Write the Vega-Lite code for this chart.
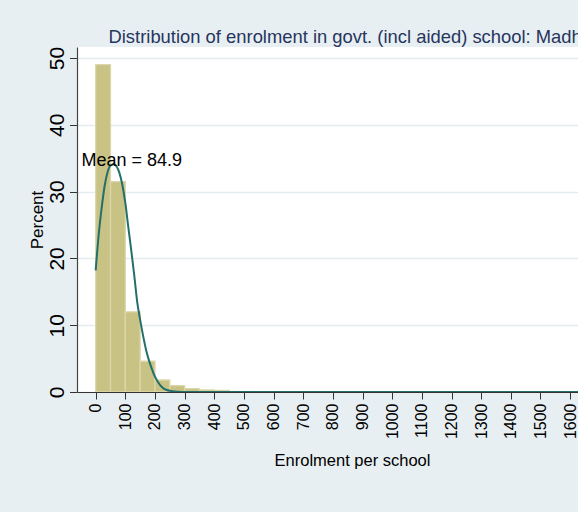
{
  "$schema": "https://vega.github.io/schema/vega-lite/v6.json",
  "width": 501,
  "height": 345,
  "autosize": {"type": "none"},
  "padding": {"left": 77, "top": 47, "right": 0, "bottom": 120},
  "background": "#e8eff2",
  "title": {
    "text": "Distribution of enrolment in govt. (incl aided) school: Madhya Pradesh",
    "anchor": "start",
    "frame": "group",
    "dx": 31.5,
    "offset": -14.7,
    "baseline": "alphabetic",
    "font": "Liberation Sans",
    "fontSize": 18.4,
    "fontWeight": "normal",
    "color": "#26355e"
  },
  "config": {
    "view": {"fill": "white", "stroke": null},
    "font": "Liberation Sans"
  },
  "datasets": {
    "bins": [
      {"lower": 0, "upper": 50, "percent": 49.0},
      {"lower": 50, "upper": 100, "percent": 31.5},
      {"lower": 100, "upper": 150, "percent": 12.0},
      {"lower": 150, "upper": 200, "percent": 4.6},
      {"lower": 200, "upper": 250, "percent": 1.8},
      {"lower": 250, "upper": 300, "percent": 0.95},
      {"lower": 300, "upper": 350, "percent": 0.5},
      {"lower": 350, "upper": 400, "percent": 0.3},
      {"lower": 400, "upper": 450, "percent": 0.25},
      {"lower": 450, "upper": 500, "percent": 0.06},
      {"lower": 500, "upper": 550, "percent": 0.04},
      {"lower": 550, "upper": 600, "percent": 0.03},
      {"lower": 600, "upper": 650, "percent": 0.02},
      {"lower": 650, "upper": 700, "percent": 0.01}
    ],
    "normal": [
      {"enrolment": 0, "percent": 18.2},
      {"enrolment": 10, "percent": 23.5},
      {"enrolment": 20, "percent": 27.5},
      {"enrolment": 30, "percent": 30.8},
      {"enrolment": 40, "percent": 32.9},
      {"enrolment": 50, "percent": 33.9},
      {"enrolment": 60, "percent": 34.1},
      {"enrolment": 70, "percent": 33.8},
      {"enrolment": 80, "percent": 32.8},
      {"enrolment": 90, "percent": 31.0},
      {"enrolment": 100, "percent": 28.3},
      {"enrolment": 110, "percent": 24.7},
      {"enrolment": 120, "percent": 21.2},
      {"enrolment": 130, "percent": 17.5},
      {"enrolment": 140, "percent": 13.5},
      {"enrolment": 150, "percent": 10.8},
      {"enrolment": 160, "percent": 8.4},
      {"enrolment": 170, "percent": 6.3},
      {"enrolment": 180, "percent": 4.7},
      {"enrolment": 190, "percent": 3.4},
      {"enrolment": 200, "percent": 2.3},
      {"enrolment": 210, "percent": 1.5},
      {"enrolment": 220, "percent": 0.9},
      {"enrolment": 230, "percent": 0.5},
      {"enrolment": 240, "percent": 0.3},
      {"enrolment": 250, "percent": 0.18},
      {"enrolment": 260, "percent": 0.1},
      {"enrolment": 280, "percent": 0.03},
      {"enrolment": 300, "percent": 0},
      {"enrolment": 1700, "percent": 0}
    ]
  },
  "encoding": {
    "x": {
      "type": "quantitative",
      "scale": {"domain": [-63, 1626.6], "nice": false, "zero": false},
      "axis": {
        "title": "Enrolment per school",
        "values": [0, 100, 200, 300, 400, 500, 600, 700, 800, 900, 1000, 1100, 1200, 1300, 1400, 1500, 1600],
        "format": "d",
        "grid": false,
        "labelAngle": -90,
        "labelAlign": "right",
        "labelBaseline": "middle",
        "labelPadding": 4,
        "labelFont": "Liberation Sans Narrow, Arial Narrow, Liberation Sans",
        "labelFontSize": 16,
        "labelColor": "black",
        "labelFlush": false,
        "labelOverlap": false,
        "labelBound": false,
        "tickSize": 7,
        "tickColor": "#333333",
        "domainColor": "#333333",
        "domainWidth": 1.2,
        "titleFontSize": 16.5,
        "titleFontWeight": "normal",
        "titleColor": "black",
        "titleX": 275,
        "titleY": 73,
        "titleBaseline": "alphabetic",
        "titleAlign": "center"
      }
    },
    "y": {
      "type": "quantitative",
      "scale": {"domain": [0, 51.65], "nice": false},
      "axis": {
        "title": "Percent",
        "values": [0, 10, 20, 30, 40, 50],
        "grid": true,
        "gridColor": "#e4ecef",
        "gridWidth": 1.5,
        "labelAngle": -90,
        "labelAlign": "center",
        "labelBaseline": "alphabetic",
        "labelPadding": 6,
        "labelFont": "Liberation Sans Narrow, Arial Narrow, Liberation Sans",
        "labelFontSize": 21,
        "labelColor": "black",
        "labelFlush": false,
        "labelOverlap": false,
        "labelBound": false,
        "tickSize": 7.5,
        "tickColor": "#333333",
        "domainColor": "#444444",
        "domainWidth": 1.2,
        "titleFontSize": 17,
        "titleFontWeight": "normal",
        "titleColor": "black",
        "titleAngle": -90,
        "titleX": -34.3,
        "titleY": 172.5,
        "titleBaseline": "alphabetic",
        "titleAlign": "center"
      }
    }
  },
  "layer": [
    {
      "data": {"name": "bins"},
      "mark": {"type": "bar", "fill": "#c8c285", "stroke": "#dcd7ab", "strokeWidth": 1.3, "clip": true},
      "encoding": {
        "x": {"field": "lower", "type": "quantitative"},
        "x2": {"field": "upper"},
        "y": {"field": "percent", "type": "quantitative"},
        "y2": {"datum": 0}
      }
    },
    {
      "data": {"name": "normal"},
      "mark": {"type": "line", "color": "#23706a", "strokeWidth": 2, "interpolate": "monotone", "clip": true},
      "encoding": {
        "x": {"field": "enrolment", "type": "quantitative"},
        "y": {"field": "percent", "type": "quantitative"}
      }
    },
    {
      "data": {"values": [{}]},
      "mark": {"type": "text", "align": "left", "baseline": "alphabetic", "font": "Liberation Sans", "fontSize": 18, "color": "black"},
      "encoding": {
        "x": {"datum": -48.2, "type": "quantitative"},
        "y": {"datum": 33.9, "type": "quantitative"},
        "text": {"value": "Mean = 84.9"}
      }
    }
  ]
}
